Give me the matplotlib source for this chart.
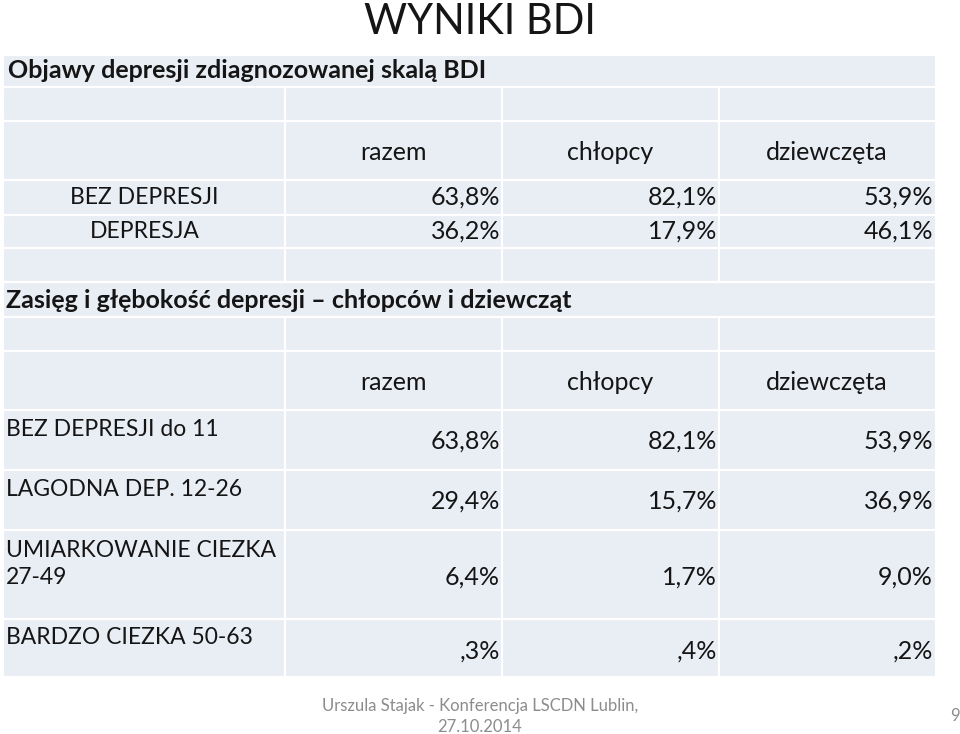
import matplotlib.pyplot as plt
from matplotlib.patches import Rectangle

plt.rcParams['font.family'] = ['Lato', 'DejaVu Sans']

# data
groups = ['razem', 'chłopcy', 'dziewczęta']
bdi_status = ['BEZ DEPRESJI', 'DEPRESJA']
bdi_values = [['63,8%', '82,1%', '53,9%'],
              ['36,2%', '17,9%', '46,1%']]
severity = ['BEZ DEPRESJI do 11', 'LAGODNA DEP. 12-26',
            'UMIARKOWANIE CIEZKA\n27-49', 'BARDZO CIEZKA 50-63']
severity_values = [['63,8%', '82,1%', '53,9%'],
                   ['29,4%', '15,7%', '36,9%'],
                   ['6,4%', '1,7%', '9,0%'],
                   [',3%', ',4%', ',2%']]

# layout in pixels (figure is 960 x 734)
col_edges = [4, 285, 502, 719, 935]
rows1 = [55, 87, 121, 180, 215, 248, 282]
rows2 = [282, 317, 351, 410, 470, 530, 619, 677]
bg = '#e9edf4'
ink = '#151515'
fs = 18
fs_caps = 16.5

fig = plt.figure(figsize=(9.6, 7.34), dpi=100)
ax = fig.add_axes([0, 0, 1, 1])
ax.set_xlim(0, 960)
ax.set_ylim(734, 0)
ax.axis('off')

ax.add_patch(Rectangle((col_edges[0], rows1[0]), col_edges[-1] - col_edges[0],
                       rows2[-1] - rows1[0], color=bg, lw=0))
for y in rows1 + rows2:
    ax.plot([col_edges[0], col_edges[-1]], [y, y], color='white', lw=1.6)
for x in col_edges[1:-1]:
    ax.plot([x, x], [rows1[1], rows1[-1]], color='white', lw=1.6)
    ax.plot([x, x], [rows2[1], rows2[-1]], color='white', lw=1.6)

ax.text(480, 34, 'WYNIKI BDI', ha='center', va='baseline', fontsize=30,
        color=ink)

# first table
ax.text(8, 71, 'Objawy depresji zdiagnozowanej skalą BDI', ha='left', va='center',
        fontsize=fs, fontweight='bold', color=ink)
for j, g in enumerate(groups):
    cx = (col_edges[j + 1] + col_edges[j + 2]) / 2
    ax.text(cx, 153, g, ha='center', va='center', fontsize=fs, color=ink)
for i, lab in enumerate(bdi_status):
    cy = (rows1[3 + i] + rows1[4 + i]) / 2
    ax.text((col_edges[0] + col_edges[1]) / 2, cy, lab, ha='center', va='center',
            fontsize=fs_caps, color=ink)
    for j, v in enumerate(bdi_values[i]):
        ax.text(col_edges[j + 2] - 2, cy, v, ha='right', va='center',
                fontsize=fs, color=ink)

# second table
ax.text(6, 300, 'Zasięg i głębokość depresji – chłopców i dziewcząt', ha='left',
        va='center', fontsize=fs, fontweight='bold', color=ink)
for j, g in enumerate(groups):
    cx = (col_edges[j + 1] + col_edges[j + 2]) / 2
    ax.text(cx, 382, g, ha='center', va='center', fontsize=fs, color=ink)
label_y = [430, 489, 564, 637]
value_y = [441, 501, 577, 651]
for i, lab in enumerate(severity):
    ax.text(6, label_y[i], lab, ha='left', va='center', fontsize=fs_caps, color=ink,
            linespacing=1.35)
    for j, v in enumerate(severity_values[i]):
        ax.text(col_edges[j + 2] - 2, value_y[i], v, ha='right', va='center',
                fontsize=fs, color=ink)

# footer
ax.text(480, 706, 'Urszula Stajak - Konferencja LSCDN Lublin,', ha='center',
        va='center', fontsize=12, color='#8c8c8c')
ax.text(480, 727, '27.10.2014', ha='center', va='center', fontsize=12, color='#8c8c8c')
ax.text(955, 716, '9', ha='center', va='center', fontsize=12, color='#8c8c8c')

fig.savefig('out.png', dpi=100)
